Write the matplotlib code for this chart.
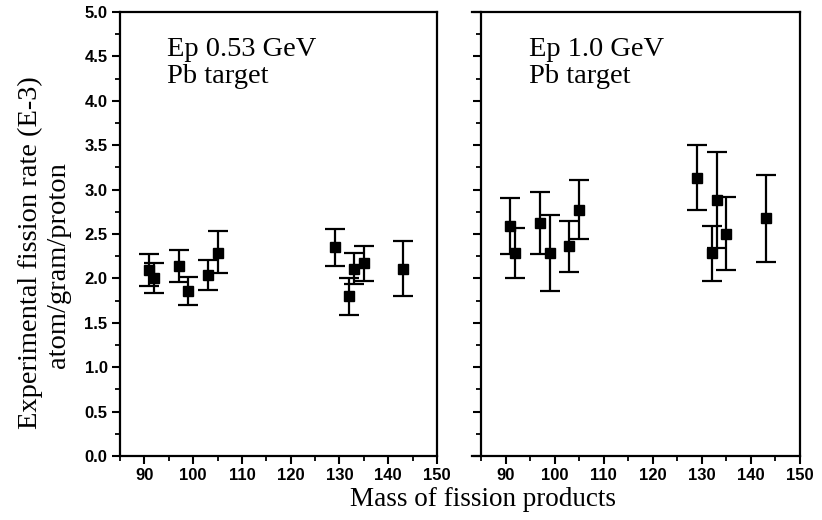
import matplotlib
matplotlib.use("Agg")
import matplotlib.pyplot as plt
from matplotlib.ticker import MultipleLocator
import numpy as np

# Left panel: Ep 0.53 GeV
mass_l = [91, 92, 97, 99, 103, 105, 129, 132, 133, 135, 143]
rate_l = [2.09, 2.00, 2.14, 1.86, 2.04, 2.29, 2.35, 1.80, 2.11, 2.17, 2.11]
lo_l = [1.91, 1.84, 1.96, 1.70, 1.87, 2.06, 2.14, 1.59, 1.94, 1.97, 1.80]
hi_l = [2.27, 2.17, 2.32, 2.02, 2.21, 2.53, 2.56, 2.01, 2.29, 2.37, 2.42]

# Right panel: Ep 1.0 GeV
mass_r = [91, 92, 97, 99, 103, 105, 129, 132, 133, 135, 143]
rate_r = [2.59, 2.29, 2.62, 2.29, 2.36, 2.77, 3.13, 2.29, 2.88, 2.50, 2.68]
lo_r = [2.27, 2.00, 2.27, 1.86, 2.07, 2.44, 2.77, 1.97, 2.34, 2.09, 2.19]
hi_r = [2.90, 2.57, 2.97, 2.71, 2.65, 3.11, 3.50, 2.59, 3.42, 2.92, 3.17]

yticks = [0.0, 0.5, 1.0, 1.5, 2.0, 2.5, 3.0, 3.5, 4.0, 4.5, 5.0]
xticks = [90, 100, 110, 120, 130, 140, 150]

serif = "Liberation Serif"
sans = "Liberation Sans"
plt.rcParams['font.family'] = sans
plt.rcParams['font.weight'] = 'bold'

fig = plt.figure(figsize=(8.22, 5.2), dpi=100)
axL = fig.add_axes([120/822, 64/520, (437-120)/822, (456-12)/520])
axR = fig.add_axes([471.7/822, 64/520, (800-471.7)/822, (456-12)/520])

def draw(ax, m, r, lo, hi, label, xmin):
    r = np.array(r); lo = np.array(lo); hi = np.array(hi)
    ax.errorbar(m, r, yerr=[r - lo, hi - r], fmt='s', color='black',
                markersize=7, elinewidth=1.6, capsize=7, capthick=1.6)
    ax.set_xlim(xmin, 150)
    ax.set_ylim(0, 5)
    ax.set_xticks(xticks)
    ax.set_yticks(yticks)
    ax.xaxis.set_minor_locator(MultipleLocator(5))
    ax.yaxis.set_minor_locator(MultipleLocator(0.25))
    ax.tick_params(which='major', direction='out', length=6, width=1.5,
                   top=False, right=False, labelsize=12, pad=3)
    ax.tick_params(which='minor', direction='out', length=3.5, width=1.3,
                   top=False, right=False)
    for s in ax.spines.values():
        s.set_linewidth(1.6)
    ax.text(94.7, 4.72, label, fontfamily=serif, fontweight='normal',
            fontsize=20.5, va='top', ha='left', linespacing=1.12)

draw(axL, mass_l, rate_l, lo_l, hi_l, "Ep 0.53 GeV\nPb target", 85)
axL.set_yticklabels([f"{v:.1f}" for v in yticks])

draw(axR, mass_r, rate_r, lo_r, hi_r, "Ep 1.0 GeV\nPb target", 83.1)
axR.spines['left'].set_position(('data', 85))
axR.tick_params(labelleft=False)

fig.text(30/822, 1 - 253/520, "Experimental fission rate (E-3)",
         rotation=90, ha='center', va='center',
         fontfamily=serif, fontweight='normal', fontsize=20.5)
fig.text(58/822, 1 - 265/520, "atom/gram/proton",
         rotation=90, ha='center', va='center',
         fontfamily=serif, fontweight='normal', fontsize=20.5)
fig.text(483/822, 1 - 506/520, "Mass of fission products", ha='center',
         va='baseline', fontfamily=serif, fontweight='normal', fontsize=19.5)

fig.savefig("out.png", dpi=100)
